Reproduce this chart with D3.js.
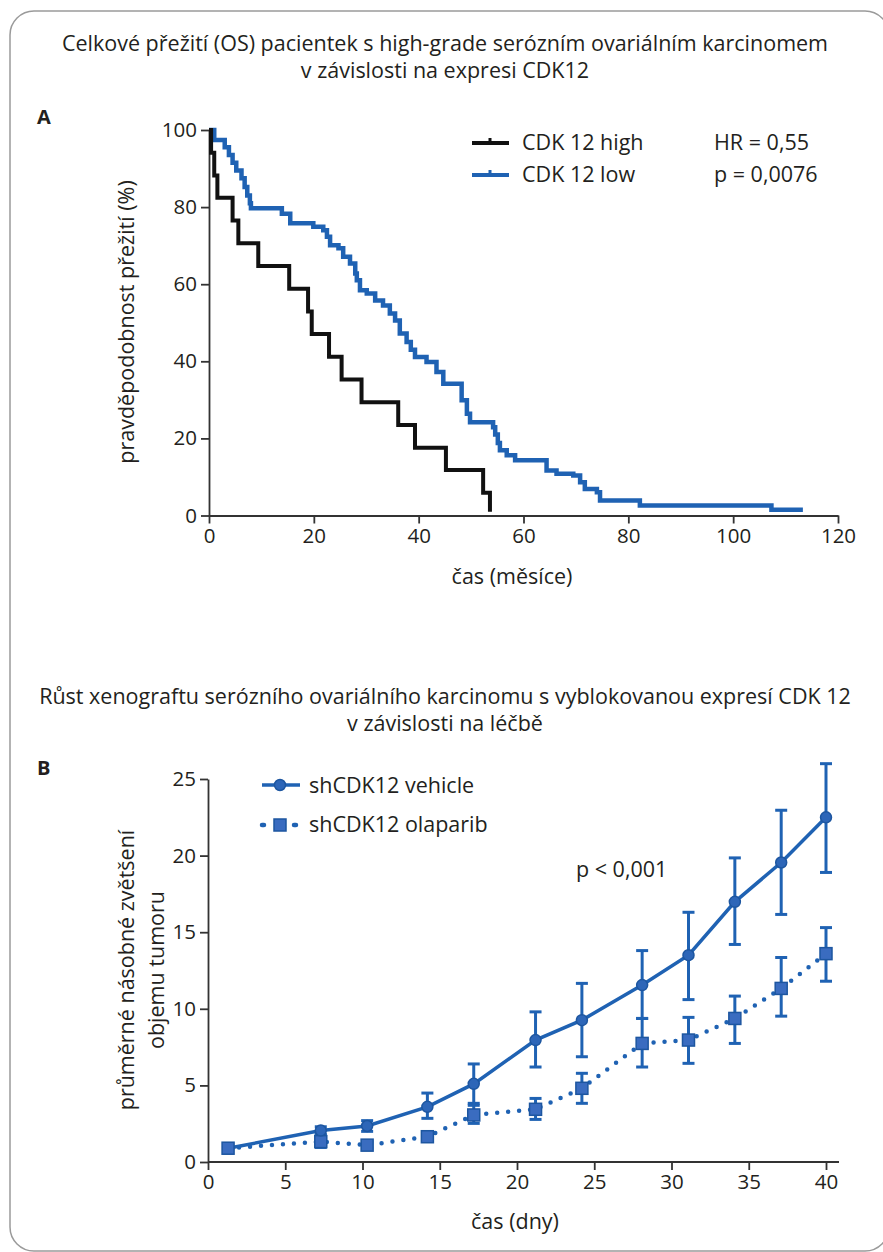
<!DOCTYPE html>
<html>
<head>
<meta charset="utf-8">
<script src="https://cdn.jsdelivr.net/npm/d3@7"></script>
<style>
  body { margin: 0; background: #fff; }
  svg text { font-family: "Myriad Pro", "Open Sans", "Noto Sans", sans-serif; fill: #231f20; }
</style>
</head>
<body>
<div id="chart"></div>
<script>
// page size
var svgWidth = 883;
var svgHeight = 1252;
var fontStack = '"Myriad Pro", "Open Sans", "Noto Sans", sans-serif';
var textSize = "21.5px";

// panel A - Kaplan-Meier data (month of drop, survival % after drop)
var highTime = [0, 0.4, 1.0, 1.6, 4.5, 5.6, 9.4, 15.3, 18.9, 19.6, 22.9, 25.3, 29.1, 36.1, 39.3, 45.2, 52.3, 53.6];
var highSurv = [100, 94.1, 88.2, 82.4, 76.5, 70.6, 64.7, 58.8, 52.9, 47.1, 41.2, 35.3, 29.4, 23.5, 17.6, 11.8, 5.9, 1];

var lowTime = [0, 1.0, 3.0, 3.8, 4.5, 5.2, 6.2, 6.8, 7.3, 7.8, 8.0, 13.9, 15.5, 19.9, 21.8, 22.5, 23.1, 24.7, 25.6,
  26.9, 27.9, 28.2, 28.8, 30.1, 31.7, 33.2, 34.5, 35.5, 36.4, 37.7, 38.5, 39.3, 41.5, 43.4, 44.7, 48.2, 49.2, 49.8,
  54.2, 54.6, 55.1, 55.5, 56.8, 58.4, 64.4, 66.3, 69.5, 70.8, 71.7, 74.0, 74.6, 82.2, 107.3, 113.3];
var lowSurv = [100, 97.4, 95.5, 93.5, 91.5, 89.5, 87.5, 85.2, 83, 81, 79.7, 78.3, 75.8, 74.9, 74, 72.3, 70.1, 69.3, 67.1,
  65.4, 62.8, 61, 58.4, 57.6, 55.8, 54.5, 52.4, 50.6, 47.2, 45, 43, 41.1, 39.8, 37.2, 34.2, 29.9, 26.4, 24.2,
  22.9, 21, 18.8, 16.9, 15.6, 14.3, 11.7, 10.8, 10.4, 8.6, 6.9, 6.05, 3.9, 2.6, 1.5, 1.5];

var kmTicksX = [0, 20, 40, 60, 80, 100, 120];
var kmTicksY = [0, 20, 40, 60, 80, 100];

// panel B - xenograft growth
var days = [1.3, 7.3, 10.3, 14.2, 17.2, 21.2, 24.2, 28.1, 31.1, 34.1, 37.1, 40.0];
var vehicleMean = [0.9, 2.05, 2.35, 3.6, 5.1, 7.96, 9.26, 11.55, 13.5, 16.98, 19.55, 22.5];
var vehicleLow = [0.9, 1.8, 2.0, 2.85, 3.7, 6.2, 6.87, 9.37, 10.6, 14.2, 16.16, 18.9];
var vehicleHigh = [0.9, 2.3, 2.7, 4.5, 6.4, 9.8, 11.66, 13.8, 16.3, 19.85, 22.96, 26.0];
var olapMean = [0.9, 1.33, 1.1, 1.65, 3.07, 3.44, 4.81, 7.74, 7.96, 9.37, 11.33, 13.6];
var olapLow = [0.9, 0.95, 0.9, 1.5, 2.52, 2.78, 3.83, 6.2, 6.44, 7.74, 9.52, 11.8];
var olapHigh = [0.9, 1.75, 1.3, 1.8, 3.83, 4.15, 5.79, 9.37, 9.44, 10.83, 13.35, 15.3];

var growthTicksX = [0, 5, 10, 15, 20, 25, 30, 35, 40];
var growthTicksY = [0, 5, 10, 15, 20, 25];

var blue = "#1f62b3";
var axisColor = "#333";

var svg = d3.select("#chart").append("svg")
  .attr("width", svgWidth)
  .attr("height", svgHeight);

// rounded frame
svg.append("rect")
  .attr("x", 10).attr("y", 11)
  .attr("width", 879).attr("height", 1240)
  .attr("rx", 24)
  .attr("fill", "none")
  .attr("stroke", "#9a9a9a")
  .attr("stroke-width", 1.5);

function styleAxis(g) {
  g.selectAll("path").attr("stroke", axisColor).attr("stroke-width", 1.8);
  g.selectAll("line").attr("stroke", axisColor).attr("stroke-width", 1.8);
  g.selectAll("text").style("font-size", "20.5px").attr("fill", "#231f20")
    .style("font-family", fontStack);
}

function title(lines, y) {
  svg.append("text")
    .attr("text-anchor", "middle")
    .style("font-size", textSize)
    .selectAll("tspan")
    .data(lines)
    .enter()
    .append("tspan")
      .attr("x", 445)
      .attr("y", function(d, i) { return y + i * 27; })
      .text(function(d) { return d; });
}

// ---------- panel A ----------
title(["Celkové přežití (OS) pacientek s high-grade serózním ovariálním karcinomem",
       "v závislosti na expresi CDK12"], 51);

svg.append("text")
  .attr("x", 37).attr("y", 124)
  .style("font-size", "20px").style("font-weight", "bold")
  .text("A");

var kmX = d3.scaleLinear().domain([0, 120]).range([209, 838]);
var kmY = d3.scaleLinear().domain([0, 100]).range([515.5, 130]);

svg.append("g")
  .attr("transform", "translate(0, 515.5)")
  .call(d3.axisBottom(kmX).tickValues(kmTicksX).tickSize(8).tickPadding(5).tickSizeOuter(0))
  .call(styleAxis);

svg.append("g")
  .attr("transform", "translate(209, 0)")
  .call(d3.axisLeft(kmY).tickValues(kmTicksY).tickSize(8).tickPadding(4).tickSizeOuter(0))
  .call(styleAxis);

var stepLine = d3.line()
  .x(function(d) { return kmX(d[0]); })
  .y(function(d) { return kmY(d[1]); })
  .curve(d3.curveStepAfter);

svg.append("path")
  .datum(d3.zip(lowTime, lowSurv))
  .attr("d", stepLine)
  .attr("fill", "none")
  .attr("stroke", blue)
  .attr("stroke-width", 4.5);

svg.append("path")
  .datum(d3.zip(highTime, highSurv))
  .attr("d", stepLine)
  .attr("fill", "none")
  .attr("stroke", "#111")
  .attr("stroke-width", 4);

// legend A
var legA = [
  {label: "CDK 12 high", stat: "HR = 0,55", color: "#111", y: 143},
  {label: "CDK 12 low", stat: "p = 0,0076", color: blue, y: 175}
];
legA.forEach(function(d) {
  svg.append("line")
    .attr("x1", 472).attr("x2", 509)
    .attr("y1", d.y).attr("y2", d.y)
    .attr("stroke", d.color).attr("stroke-width", 4);
  svg.append("line")
    .attr("x1", 490).attr("x2", 490)
    .attr("y1", d.y - 5).attr("y2", d.y)
    .attr("stroke", d.color).attr("stroke-width", 3);
  svg.append("text")
    .attr("x", 522).attr("y", d.y + 7)
    .style("font-size", textSize)
    .text(d.label);
  svg.append("text")
    .attr("x", 714).attr("y", d.y + 7)
    .style("font-size", textSize)
    .text(d.stat);
});

svg.append("text")
  .attr("transform", "translate(134, 322) rotate(-90)")
  .attr("text-anchor", "middle")
  .style("font-size", textSize)
  .text("pravděpodobnost přežití (%)");

svg.append("text")
  .attr("x", 512).attr("y", 584)
  .attr("text-anchor", "middle")
  .style("font-size", textSize)
  .text("čas (měsíce)");

// ---------- panel B ----------
title(["Růst xenograftu serózního ovariálního karcinomu s vyblokovanou expresí CDK 12",
       "v závislosti na léčbě"], 704);

svg.append("text")
  .attr("x", 37).attr("y", 775)
  .style("font-size", "20px").style("font-weight", "bold")
  .text("B");

var gX = d3.scaleLinear().domain([0, 40]).range([208, 826]);
var gY = d3.scaleLinear().domain([0, 25]).range([1162, 779]);

svg.append("g")
  .attr("transform", "translate(0, 1162)")
  .call(d3.axisBottom(gX).tickValues(growthTicksX).tickSize(8).tickPadding(4).tickSizeOuter(0))
  .call(styleAxis)
  .select(".domain").attr("d", "M208,0H839");

svg.append("g")
  .attr("transform", "translate(208, 0)")
  .call(d3.axisLeft(gY).tickValues(growthTicksY).tickSize(8).tickPadding(4).tickSizeOuter(0))
  .call(styleAxis);

var growthLine = d3.line()
  .x(function(d) { return gX(d[0]); })
  .y(function(d) { return gY(d[1]); });

var olapData = d3.zip(days, olapMean, olapLow, olapHigh);
var vehData = d3.zip(days, vehicleMean, vehicleLow, vehicleHigh);

function errorBars(data) {
  var g = svg.append("g")
    .attr("stroke", blue)
    .attr("stroke-width", 3)
    .attr("fill", "none");
  g.selectAll("line.v")
    .data(data)
    .enter()
    .append("line")
    .attr("x1", function(d) { return gX(d[0]); })
    .attr("x2", function(d) { return gX(d[0]); })
    .attr("y1", function(d) { return gY(d[2]); })
    .attr("y2", function(d) { return gY(d[3]); });
  [2, 3].forEach(function(k) {
    g.selectAll("line.c" + k)
      .data(data)
      .enter()
      .append("line")
      .attr("x1", function(d) { return gX(d[0]) - 6; })
      .attr("x2", function(d) { return gX(d[0]) + 6; })
      .attr("y1", function(d) { return gY(d[k]); })
      .attr("y2", function(d) { return gY(d[k]); });
  });
}

errorBars(olapData);
errorBars(vehData);

svg.append("path")
  .datum(olapData)
  .attr("d", growthLine)
  .attr("fill", "none")
  .attr("stroke", blue)
  .attr("stroke-width", 4.5)
  .attr("stroke-linecap", "round")
  .attr("stroke-dasharray", "0 11");

svg.append("path")
  .datum(vehData)
  .attr("d", growthLine)
  .attr("fill", "none")
  .attr("stroke", blue)
  .attr("stroke-width", 3.5);

svg.selectAll("rect.olap")
  .data(olapData)
  .enter()
  .append("rect")
  .attr("x", function(d) { return gX(d[0]) - 6; })
  .attr("y", function(d) { return gY(d[1]) - 6; })
  .attr("width", 12).attr("height", 12)
  .attr("fill", "#3a6cc0")
  .attr("stroke", "#1d56a0")
  .attr("stroke-width", 1.5);

svg.selectAll("circle.veh")
  .data(vehData.slice(1))
  .enter()
  .append("circle")
  .attr("cx", function(d) { return gX(d[0]); })
  .attr("cy", function(d) { return gY(d[1]); })
  .attr("r", 5.5)
  .attr("fill", "#2d66b8")
  .attr("stroke", "#1d56a0")
  .attr("stroke-width", 1.5);

// legend B
svg.append("line")
  .attr("x1", 262).attr("x2", 300).attr("y1", 785).attr("y2", 785)
  .attr("stroke", blue).attr("stroke-width", 3.5);
svg.append("circle")
  .attr("cx", 280).attr("cy", 785).attr("r", 5.5)
  .attr("fill", "#2d66b8").attr("stroke", "#1d56a0").attr("stroke-width", 1.5);
svg.append("text")
  .attr("x", 309).attr("y", 793)
  .style("font-size", textSize)
  .text("shCDK12 vehicle");

svg.append("line")
  .attr("x1", 262).attr("x2", 300).attr("y1", 825).attr("y2", 825)
  .attr("stroke", blue).attr("stroke-width", 4.5)
  .attr("stroke-linecap", "round")
  .attr("stroke-dasharray", "2 14");
svg.append("rect")
  .attr("x", 274).attr("y", 819).attr("width", 12).attr("height", 12)
  .attr("fill", "#3a6cc0").attr("stroke", "#1d56a0").attr("stroke-width", 1.5);
svg.append("text")
  .attr("x", 309).attr("y", 832)
  .style("font-size", textSize)
  .text("shCDK12 olaparib");

svg.append("text")
  .attr("x", 576).attr("y", 877)
  .style("font-size", textSize)
  .text("p < 0,001");

svg.append("text")
  .attr("transform", "translate(0, 970) rotate(-90)")
  .attr("text-anchor", "middle")
  .style("font-size", textSize)
  .selectAll("tspan")
  .data(["průměrné násobné zvětšení", "objemu tumoru"])
  .enter()
  .append("tspan")
    .attr("x", 0)
    .attr("y", function(d, i) { return 134 + i * 30; })
    .text(function(d) { return d; });

svg.append("text")
  .attr("x", 515).attr("y", 1229)
  .attr("text-anchor", "middle")
  .style("font-size", textSize)
  .text("čas (dny)");
</script>
</body>
</html>
